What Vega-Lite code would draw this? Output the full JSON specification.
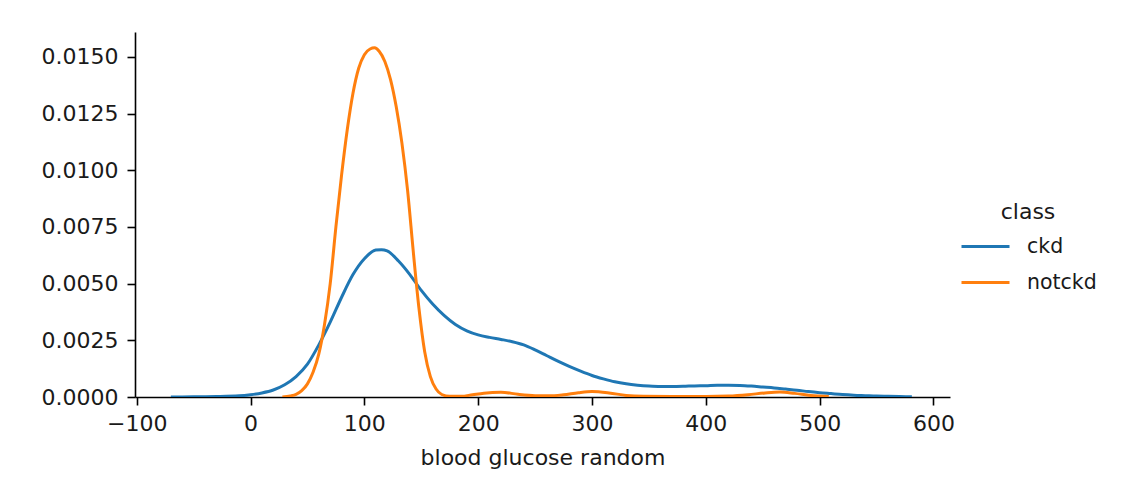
{
  "$schema": "https://vega.github.io/schema/vega-lite/v6.json",
  "width": 815,
  "height": 365,
  "autosize": {"type": "none"},
  "padding": {"left": 135, "top": 32, "right": 179, "bottom": 89},
  "background": "white",
  "config": {
    "font": "DejaVu Sans",
    "view": {"stroke": null},
    "axis": {
      "grid": false,
      "domainColor": "#000000",
      "domainWidth": 1.6,
      "tickColor": "#000000",
      "tickWidth": 1.6,
      "tickSize": 8,
      "labelFont": "DejaVu Sans",
      "labelFontSize": 22,
      "labelColor": "#1a1a1a",
      "titleFont": "DejaVu Sans",
      "titleFontSize": 22,
      "titleFontWeight": "normal",
      "titleColor": "#1a1a1a"
    },
    "legend": {
      "labelFont": "DejaVu Sans",
      "titleFont": "DejaVu Sans"
    }
  },
  "data": {
    "values": [
      {"x": -70, "y": 0.0, "class": "ckd"},
      {"x": -50, "y": 0.00001, "class": "ckd"},
      {"x": -30, "y": 0.00002, "class": "ckd"},
      {"x": -10, "y": 0.00005, "class": "ckd"},
      {"x": 0, "y": 0.0001, "class": "ckd"},
      {"x": 10, "y": 0.00018, "class": "ckd"},
      {"x": 20, "y": 0.00031, "class": "ckd"},
      {"x": 30, "y": 0.00054, "class": "ckd"},
      {"x": 40, "y": 0.0009, "class": "ckd"},
      {"x": 50, "y": 0.00145, "class": "ckd"},
      {"x": 60, "y": 0.0023, "class": "ckd"},
      {"x": 70, "y": 0.0033, "class": "ckd"},
      {"x": 80, "y": 0.0044, "class": "ckd"},
      {"x": 90, "y": 0.0054, "class": "ckd"},
      {"x": 100, "y": 0.0061, "class": "ckd"},
      {"x": 110, "y": 0.00648, "class": "ckd"},
      {"x": 115, "y": 0.0065, "class": "ckd"},
      {"x": 120, "y": 0.00645, "class": "ckd"},
      {"x": 130, "y": 0.006, "class": "ckd"},
      {"x": 140, "y": 0.0054, "class": "ckd"},
      {"x": 150, "y": 0.0047, "class": "ckd"},
      {"x": 160, "y": 0.0041, "class": "ckd"},
      {"x": 170, "y": 0.0036, "class": "ckd"},
      {"x": 180, "y": 0.0032, "class": "ckd"},
      {"x": 190, "y": 0.00292, "class": "ckd"},
      {"x": 200, "y": 0.00274, "class": "ckd"},
      {"x": 210, "y": 0.00263, "class": "ckd"},
      {"x": 220, "y": 0.00254, "class": "ckd"},
      {"x": 230, "y": 0.00244, "class": "ckd"},
      {"x": 240, "y": 0.0023, "class": "ckd"},
      {"x": 250, "y": 0.00208, "class": "ckd"},
      {"x": 260, "y": 0.00183, "class": "ckd"},
      {"x": 270, "y": 0.00158, "class": "ckd"},
      {"x": 280, "y": 0.00135, "class": "ckd"},
      {"x": 290, "y": 0.00114, "class": "ckd"},
      {"x": 300, "y": 0.00095, "class": "ckd"},
      {"x": 310, "y": 0.0008, "class": "ckd"},
      {"x": 320, "y": 0.00067, "class": "ckd"},
      {"x": 330, "y": 0.00058, "class": "ckd"},
      {"x": 340, "y": 0.00052, "class": "ckd"},
      {"x": 350, "y": 0.00048, "class": "ckd"},
      {"x": 360, "y": 0.00046, "class": "ckd"},
      {"x": 370, "y": 0.00046, "class": "ckd"},
      {"x": 380, "y": 0.00047, "class": "ckd"},
      {"x": 390, "y": 0.00049, "class": "ckd"},
      {"x": 400, "y": 0.0005, "class": "ckd"},
      {"x": 410, "y": 0.00052, "class": "ckd"},
      {"x": 420, "y": 0.00052, "class": "ckd"},
      {"x": 430, "y": 0.00051, "class": "ckd"},
      {"x": 440, "y": 0.00048, "class": "ckd"},
      {"x": 450, "y": 0.00044, "class": "ckd"},
      {"x": 460, "y": 0.0004, "class": "ckd"},
      {"x": 470, "y": 0.00035, "class": "ckd"},
      {"x": 480, "y": 0.0003, "class": "ckd"},
      {"x": 490, "y": 0.00024, "class": "ckd"},
      {"x": 500, "y": 0.00019, "class": "ckd"},
      {"x": 510, "y": 0.00015, "class": "ckd"},
      {"x": 520, "y": 0.00011, "class": "ckd"},
      {"x": 530, "y": 0.00008, "class": "ckd"},
      {"x": 540, "y": 0.00006, "class": "ckd"},
      {"x": 550, "y": 0.00004, "class": "ckd"},
      {"x": 560, "y": 0.00003, "class": "ckd"},
      {"x": 570, "y": 0.00002, "class": "ckd"},
      {"x": 581, "y": 0.00001, "class": "ckd"},
      {"x": 28, "y": 0.0, "class": "notckd"},
      {"x": 35, "y": 0.00005, "class": "notckd"},
      {"x": 40, "y": 0.00012, "class": "notckd"},
      {"x": 45, "y": 0.00028, "class": "notckd"},
      {"x": 50, "y": 0.00058, "class": "notckd"},
      {"x": 55, "y": 0.0011, "class": "notckd"},
      {"x": 60, "y": 0.0019, "class": "notckd"},
      {"x": 65, "y": 0.0032, "class": "notckd"},
      {"x": 70, "y": 0.005, "class": "notckd"},
      {"x": 75, "y": 0.0075, "class": "notckd"},
      {"x": 80, "y": 0.0098, "class": "notckd"},
      {"x": 85, "y": 0.0118, "class": "notckd"},
      {"x": 90, "y": 0.0134, "class": "notckd"},
      {"x": 95, "y": 0.0145, "class": "notckd"},
      {"x": 100, "y": 0.0151, "class": "notckd"},
      {"x": 105, "y": 0.01535, "class": "notckd"},
      {"x": 109, "y": 0.0154, "class": "notckd"},
      {"x": 113, "y": 0.01525, "class": "notckd"},
      {"x": 118, "y": 0.0148, "class": "notckd"},
      {"x": 123, "y": 0.014, "class": "notckd"},
      {"x": 128, "y": 0.0128, "class": "notckd"},
      {"x": 133, "y": 0.0112, "class": "notckd"},
      {"x": 138, "y": 0.0091, "class": "notckd"},
      {"x": 143, "y": 0.0064, "class": "notckd"},
      {"x": 148, "y": 0.0039, "class": "notckd"},
      {"x": 153, "y": 0.002, "class": "notckd"},
      {"x": 158, "y": 0.0009, "class": "notckd"},
      {"x": 163, "y": 0.00035, "class": "notckd"},
      {"x": 168, "y": 0.00011, "class": "notckd"},
      {"x": 175, "y": 0.00003, "class": "notckd"},
      {"x": 185, "y": 0.00003, "class": "notckd"},
      {"x": 195, "y": 0.0001, "class": "notckd"},
      {"x": 205, "y": 0.00017, "class": "notckd"},
      {"x": 220, "y": 0.00021, "class": "notckd"},
      {"x": 235, "y": 0.00012, "class": "notckd"},
      {"x": 250, "y": 0.00006, "class": "notckd"},
      {"x": 262, "y": 0.00005, "class": "notckd"},
      {"x": 275, "y": 0.0001, "class": "notckd"},
      {"x": 288, "y": 0.00019, "class": "notckd"},
      {"x": 300, "y": 0.00024, "class": "notckd"},
      {"x": 315, "y": 0.00018, "class": "notckd"},
      {"x": 330, "y": 0.00007, "class": "notckd"},
      {"x": 345, "y": 0.00003, "class": "notckd"},
      {"x": 370, "y": 0.00002, "class": "notckd"},
      {"x": 400, "y": 0.00002, "class": "notckd"},
      {"x": 420, "y": 0.00004, "class": "notckd"},
      {"x": 437, "y": 0.0001, "class": "notckd"},
      {"x": 452, "y": 0.00018, "class": "notckd"},
      {"x": 465, "y": 0.00022, "class": "notckd"},
      {"x": 478, "y": 0.00016, "class": "notckd"},
      {"x": 492, "y": 0.00007, "class": "notckd"},
      {"x": 508, "y": 0.00002, "class": "notckd"}
    ]
  },
  "mark": {"type": "line", "strokeWidth": 3, "interpolate": "monotone", "clip": true},
  "encoding": {
    "x": {
      "field": "x",
      "type": "quantitative",
      "scale": {"domain": [-101.5, 614.5], "nice": false, "zero": false},
      "axis": {
        "title": "blood glucose random",
        "values": [-100, 0, 100, 200, 300, 400, 500, 600],
        "format": "d",
        "labelOverlap": false,
        "labelFlush": false,
        "labelPadding": 8,
        "titlePadding": 13
      }
    },
    "y": {
      "field": "y",
      "type": "quantitative",
      "scale": {"domain": [0, 0.0161], "nice": false},
      "axis": {
        "title": null,
        "values": [0, 0.0025, 0.005, 0.0075, 0.01, 0.0125, 0.015],
        "format": ".4f",
        "labelOverlap": false,
        "labelFlush": false,
        "labelPadding": 9
      }
    },
    "color": {
      "field": "class",
      "type": "nominal",
      "scale": {"domain": ["ckd", "notckd"], "range": ["#1f77b4", "#ff7f0e"]},
      "legend": {
        "title": "class",
        "orient": "none",
        "legendX": 825,
        "legendY": 170,
        "padding": 0,
        "titleAnchor": "middle",
        "titleFontSize": 22,
        "titleFontWeight": "normal",
        "titleColor": "#1a1a1a",
        "titlePadding": -3,
        "labelFontSize": 20.5,
        "labelColor": "#1a1a1a",
        "labelOffset": 16,
        "rowPadding": -4,
        "symbolType": "stroke",
        "symbolSize": 2304,
        "symbolStrokeWidth": 3,
        "symbolOpacity": 1
      }
    }
  }
}
